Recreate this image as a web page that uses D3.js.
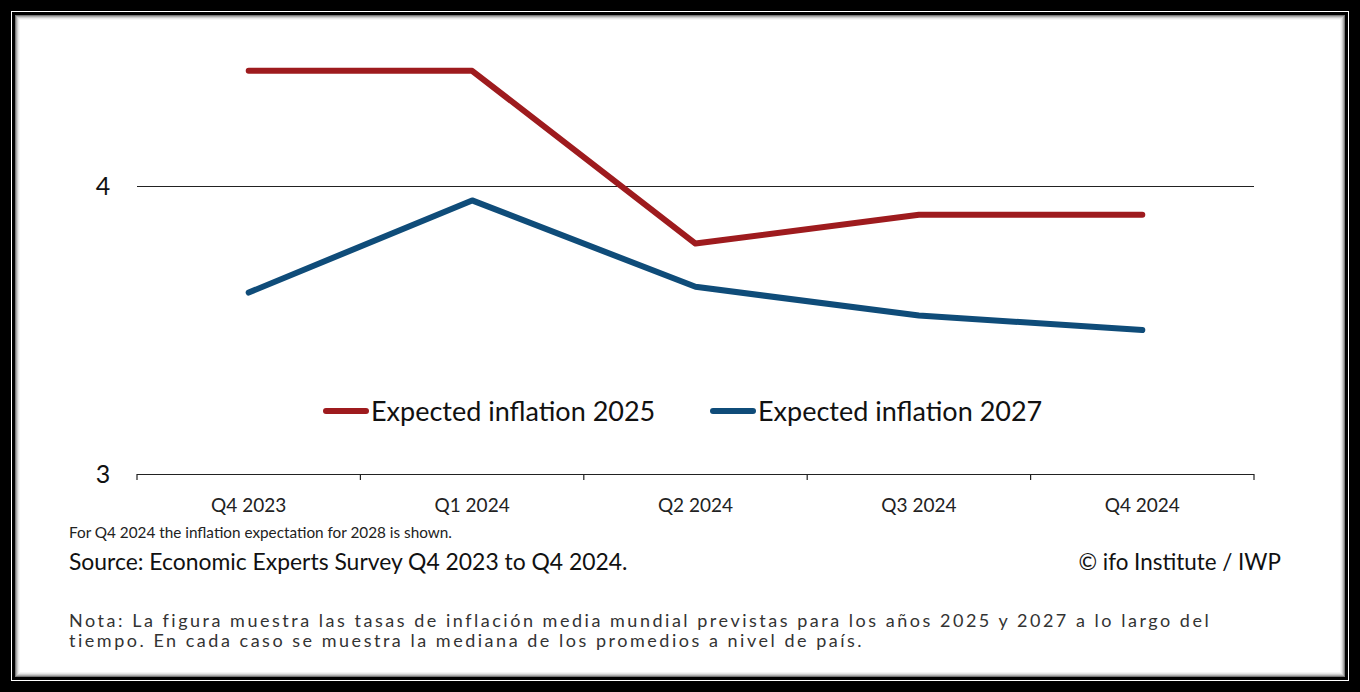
<!DOCTYPE html>
<html><head><meta charset="utf-8">
<script src="https://cdn.jsdelivr.net/npm/d3@7"></script>
<style>html,body{margin:0;padding:0;background:#000;}svg{display:block;}</style>
</head><body>
<script>
const categories = ["Q4 2023","Q1 2024","Q2 2024","Q3 2024","Q4 2024"];
const inflation2025 = [4.4, 4.4, 3.8, 3.9, 3.9];
const inflation2027 = [3.63, 3.95, 3.65, 3.55, 3.5];
const yTicks = [3, 4];
const seriesNames = ["Expected inflation 2025","Expected inflation 2027"];
const colors = ["#9E1B1E","#0F4C79"];

const W = 1360, H = 692;
const svg = d3.select("body").append("svg").attr("width", W).attr("height", H);
const font = "Lato, 'Noto Sans', sans-serif";

// frame
svg.append("rect").attr("width", W).attr("height", H).attr("fill", "#000");
svg.append("rect").attr("x", 11).attr("y", 11).attr("width", W-22).attr("height", H-22).attr("fill", "#fff");
svg.append("rect").attr("x", 12).attr("y", 12).attr("width", W-24).attr("height", H-24).attr("fill", "#000");
svg.append("rect").attr("x", 15).attr("y", 15).attr("width", W-30).attr("height", H-30).attr("fill", "#fff");
[["#777",0.5],["#aaa",1.5],["#ccc",2.5],["#e6e6e6",3.5],["#f4f4f4",4.5]].forEach(([c,o])=>{
  svg.append("rect").attr("x", 15+o).attr("y", 15+o).attr("width", W-30-2*o).attr("height", H-30-2*o)
    .attr("fill","none").attr("stroke", c).attr("stroke-width", 1);
});

const x = d3.scaleBand().domain(categories).range([137, 1254]).padding(0);
const y = d3.scaleLinear().domain([3, 4.5]).range([474, 42]);
const cx = d => x(d) + x.bandwidth()/2;

// gridline at 4
svg.append("g").selectAll("line").data(yTicks.filter(t=>t>3)).join("line")
  .attr("x1", 137).attr("x2", 1254).attr("y1", d=>y(d)+0.5).attr("y2", d=>y(d)+0.5)
  .attr("stroke", "#222").attr("stroke-width", 1).attr("shape-rendering","crispEdges");

// x axis
const xAxis = svg.append("g").attr("transform", `translate(0,${y(3)})`);
xAxis.append("line").attr("x1", 137).attr("x2", 1254).attr("y1",0.5).attr("y2",0.5)
  .attr("stroke", "#222").attr("stroke-width", 1).attr("shape-rendering","crispEdges");
const bounds = categories.map(c => x(c)).concat([x(categories[categories.length-1]) + x.bandwidth()]);
xAxis.selectAll("line.tk").data(bounds).join("line").attr("class","tk")
  .attr("x1", d=>d).attr("x2", d=>d).attr("y1", 0).attr("y2", 6).attr("stroke", "#222").attr("stroke-width", 1.2);
xAxis.selectAll("text").data(categories).join("text")
  .attr("x", d=>cx(d)).attr("y", 38).attr("text-anchor","middle")
  .attr("font-family", font).attr("font-size", 19).attr("fill", "#222").text(d=>d);

// y labels
svg.append("g").selectAll("text").data(yTicks).join("text")
  .attr("x", 103).attr("y", d=>y(d)+9).attr("text-anchor","middle")
  .attr("font-family", font).attr("font-size", 25).attr("fill", "#111").text(d=>d);

// lines
const line = d3.line().x((d,i)=>cx(categories[i])).y(d=>y(d));
[inflation2025, inflation2027].forEach((s,i)=>{
  svg.append("path").datum(s).attr("d", line).attr("fill","none")
    .attr("stroke", colors[i]).attr("stroke-width", 6).attr("stroke-linecap","round").attr("stroke-linejoin","round");
});

// legend
const legX = [326, 713];
seriesNames.forEach((n,i)=>{
  svg.append("line").attr("x1", legX[i]).attr("x2", legX[i]+40).attr("y1", 411).attr("y2", 411)
    .attr("stroke", colors[i]).attr("stroke-width", 6).attr("stroke-linecap","round");
  svg.append("text").attr("x", legX[i]+45).attr("y", 421).attr("font-family", font).attr("font-size", 27)
    .attr("fill","#111").text(n);
});

// footer
svg.append("text").attr("x", 69).attr("y", 538).attr("font-family", font).attr("font-size", 15.3).attr("fill","#222")
  .text("For Q4 2024 the inflation expectation for 2028 is shown.");
svg.append("text").attr("x", 69).attr("y", 570).attr("font-family", font).attr("font-size", 22.9).attr("fill","#111")
  .text("Source: Economic Experts Survey Q4 2023 to Q4 2024.");
svg.append("text").attr("x", 1281).attr("y", 570).attr("text-anchor","end").attr("font-family", font).attr("font-size", 22.4).attr("fill","#111")
  .text("© ifo Institute / IWP");
const nota = ["Nota: La figura muestra las tasas de inflación media mundial previstas para los años 2025 y 2027 a lo largo del",
  "tiempo. En cada caso se muestra la mediana de los promedios a nivel de país."];
nota.forEach((t,i)=>{
  svg.append("text").attr("x", 69).attr("y", 627 + i*20).attr("font-family", font).attr("font-size", 18)
    .attr("letter-spacing", 2.52).attr("fill","#333").text(t);
});
</script>
</body></html>
